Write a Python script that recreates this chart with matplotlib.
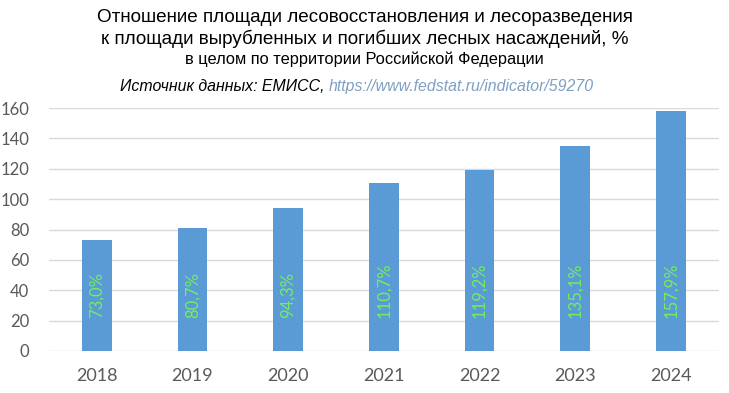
import matplotlib.pyplot as plt

# Данные
years = ['2018', '2019', '2020', '2021', '2022', '2023', '2024']
values = [73.0, 80.7, 94.3, 110.7, 119.2, 135.1, 157.9]
labels = ['73,0%', '80,7%', '94,3%', '110,7%', '119,2%', '135,1%', '157,9%']

fig = plt.figure(figsize=(7.29, 3.93), dpi=100)
ax = fig.add_axes([0.067, 0.107, 0.919, 0.618])

x = range(len(years))
ax.bar(x, values, width=0.31, color='#5B9BD5', zorder=3)

# Подписи внутри столбцов
for i, lab in enumerate(labels):
    ax.text(i, 22, lab, rotation=90, ha='center', va='bottom', color='#74EE5E',
            fontsize=12, family='Lato', zorder=4)

ax.set_xlim(-0.5, len(years) - 0.5)
ax.set_ylim(0, 160)
ax.set_yticks(range(0, 161, 20))
ax.set_xticks(list(x))
ax.set_xticklabels(years)
ax.grid(axis='y', color='#D9D9D9', linewidth=1, zorder=0)
for s in ax.spines.values():
    s.set_visible(False)
ax.tick_params(length=0, colors='#595959')
ax.tick_params(axis='y', labelsize=12, pad=14)
ax.tick_params(axis='x', labelsize=13, pad=12)
for t in ax.get_xticklabels() + ax.get_yticklabels():
    t.set_family('Lato')

# Заголовок
fig.text(0.5, 0.955, 'Отношение площади лесовосстановления и лесоразведения',
         ha='center', va='center', fontsize=13.6, family='Liberation Sans')
fig.text(0.5, 0.900, 'к площади вырубленных и погибших лесных насаждений, %',
         ha='center', va='center', fontsize=13.6, family='Liberation Sans')
fig.text(0.5, 0.850, 'в целом по территории Российской Федерации',
         ha='center', va='center', fontsize=11.8, family='Liberation Sans')
fig.text(329 / 729, 0.781, 'Источник данных: ЕМИСС, ', ha='right', va='center',
         fontsize=11.4, style='italic', family='Liberation Sans')
fig.text(329 / 729, 0.781, 'https://www.fedstat.ru/indicator/59270', ha='left', va='center',
         fontsize=11.4, style='italic', color='#7F9FC3', family='Liberation Sans')

plt.savefig('out.png', dpi=100)
